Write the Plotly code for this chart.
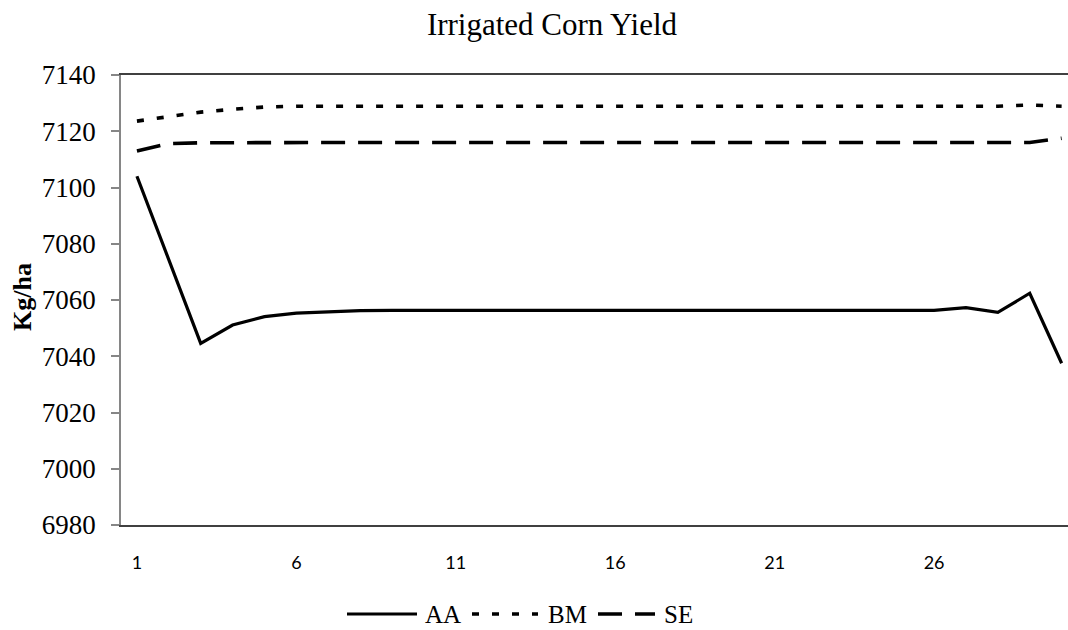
import plotly.graph_objects as go

# Simulation run index
runs = list(range(1, 31))

# Irrigated corn yield (Kg/ha) per run for each method
aa = [7104.0, 7074.2, 7044.6, 7051.1, 7054.1, 7055.3, 7055.8, 7056.2] + [7056.3] * 18 + [7057.3, 7055.6, 7062.4, 7037.5]
bm = [7123.6, 7125.1, 7126.8, 7127.8, 7128.6] + [7128.9] * 23 + [7129.3, 7128.9]
se = [7113.0, 7115.6, 7115.9] + [7116.0] * 26 + [7117.5]

x_ticks = [1, 6, 11, 16, 21, 26]
y_ticks = [6980, 7000, 7020, 7040, 7060, 7080, 7100, 7120, 7140]

W, H = 1068, 630
L, R, T, B = 121, 0, 75, 105
PW, PH = W - L - R, H - T - B


def px(xp):
    return (xp - L) / PW


def py(yp):
    return (H - B - yp) / PH


SERIF = "Liberation Serif, Times New Roman, serif"
styles = {
    "AA": dict(dash="solid", width=3.2),
    "BM": dict(dash="7px,13px", width=3.6),
    "SE": dict(dash="24px,13px", width=3.6),
}

fig = go.Figure()
for name, vals in (("AA", aa), ("BM", bm), ("SE", se)):
    fig.add_trace(go.Scatter(
        x=runs, y=vals, mode="lines", name=name,
        line=dict(color="black", **styles[name]),
        showlegend=False,
    ))

fig.update_layout(
    width=W, height=H,
    margin=dict(l=L, r=R, t=T, b=B),
    paper_bgcolor="white", plot_bgcolor="white",
    title=dict(text="Irrigated Corn Yield", x=552 / W, xanchor="center",
               y=1 - 24 / H, yanchor="middle",
               font=dict(family=SERIF, size=31, color="black")),
    xaxis=dict(
        range=[0.5, 30.2], tickvals=x_ticks, ticktext=[str(v) for v in x_ticks],
        showgrid=False, zeroline=False, showline=True, linecolor="#404040",
        linewidth=1.5, mirror=True, ticks="", ticklabelstandoff=21,
        tickfont=dict(family="Lato, Open Sans, sans-serif", size=18, color="black"),
    ),
    yaxis=dict(
        range=[6980, 7140], tickvals=y_ticks, showgrid=False, zeroline=False,
        showline=True, linecolor="#868686", linewidth=1.5,
        ticks="outside", ticklen=8, tickcolor="#868686", tickwidth=1.5,
        ticklabelstandoff=10,
        tickfont=dict(family=SERIF, size=27, color="black"),
    ),
)

# Y-axis title
fig.add_annotation(text="<b>Kg/ha</b>", textangle=-90, xref="paper", yref="paper",
                   x=px(22), y=py(297), xanchor="center", yanchor="middle",
                   showarrow=False, font=dict(family=SERIF, size=26, color="black"))

# Legend drawn below the axis
legend_y = py(614)
legend_items = [
    ("AA", 347, 417, 423),
    ("BM", 472, 538, 546),
    ("SE", 598, 655, 662),
]
for name, x0, x1, xt in legend_items:
    st = styles[name]
    fig.add_shape(type="line", xref="paper", yref="paper",
                  x0=px(x0), x1=px(x1), y0=legend_y, y1=legend_y,
                  line=dict(color="black", width=st["width"], dash=st["dash"]))
    fig.add_annotation(text=name, xref="paper", yref="paper", x=px(xt), y=legend_y,
                       xanchor="left", yanchor="middle", showarrow=False,
                       font=dict(family=SERIF, size=25, color="black"))

fig.write_html("out.html")
